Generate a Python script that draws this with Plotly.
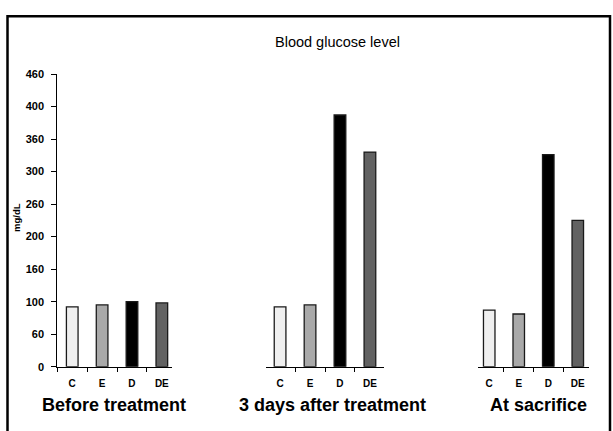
import plotly.graph_objects as go

W, H = 613, 431

categories = ["C", "E", "D", "DE"]
groups = ["Before treatment", "3 days after treatment", "At sacrifice"]
before = [92, 95, 100, 98]
after3 = [92, 95, 387, 330]
sacrifice = [87, 81, 326, 225]
series = [before, after3, sacrifice]

bar_colors = ["#efefef", "#a9a9a9", "#000000", "#626262"]

y_tickvals = [0, 50, 100, 150, 200, 250, 300, 350, 400, 450]
y_ticktext = ["0", "60", "100", "160", "200", "260", "300", "360", "400", "460"]

def px(x):
    return x / W

def py(y):
    return 1 - y / H

FONT = "Liberation Sans, Arial, sans-serif"

fig = go.Figure()

axis_names = ["x", "x2", "x3"]
for vals, ax in zip(series, axis_names):
    fig.add_trace(go.Bar(
        x=categories, y=vals, xaxis=ax, yaxis="y",
        marker=dict(color=bar_colors, line=dict(color="#1a1a1a", width=1.3)),
        width=0.39, showlegend=False, hoverinfo="x+y",
    ))

# panel domains (pixels) and ranges
domains = [(57.3, 171.7), (266.0, 384.0), (478.3, 589.3)]
ranges = [(-0.5, 3.33), (-0.47, 3.47), (-0.37, 3.39)]

common_x = dict(
    type="category", showline=True, linecolor="black", linewidth=1,
    ticks="outside", tickson="boundaries", ticklen=4, tickcolor="black",
    tickwidth=1, showgrid=False, zeroline=False, anchor="y",
    tickfont=dict(family=FONT, size=10, color="black", weight="bold"),
    ticklabelstandoff=7, fixedrange=True,
)

layout_axes = {}
for i, (d, r) in enumerate(zip(domains, ranges)):
    key = "xaxis" if i == 0 else f"xaxis{i+1}"
    layout_axes[key] = dict(common_x, domain=[px(d[0]), px(d[1])], range=list(r))

fig.update_layout(**layout_axes)

fig.update_layout(
    width=W, height=H,
    margin=dict(l=0, r=0, t=0, b=0),
    paper_bgcolor="white", plot_bgcolor="rgba(0,0,0,0)",
    yaxis=dict(
        domain=[py(371), py(70)], range=[0, 450], anchor="x",
        tickvals=y_tickvals, ticktext=y_ticktext,
        showline=True, linecolor="black", linewidth=1,
        ticks="outside", ticklen=5, tickcolor="black",
        showgrid=False, zeroline=False,
        tickfont=dict(family=FONT, size=11, color="black", weight="bold"),
        ticklabelstandoff=5, fixedrange=True,
    ),
    bargap=0.6,
)

annotations = [
    dict(text="Blood glucose level", x=px(337.5), y=py(37), xref="paper", yref="paper",
         showarrow=False, xanchor="center", yanchor="middle",
         font=dict(family=FONT, size=14.5, color="black")),
    dict(text="mg/dL", x=px(17), y=py(218), xref="paper", yref="paper",
         showarrow=False, textangle=-90, xanchor="center", yanchor="middle",
         font=dict(family=FONT, size=9.5, color="black", weight="bold")),
]
group_x = [114.2, 332.0, 538.0]
for g, gx in zip(groups, group_x):
    annotations.append(dict(
        text=g, x=px(gx), y=py(410.5), xref="paper", yref="paper",
        showarrow=False, xanchor="center", yanchor="middle",
        font=dict(family=FONT, size=18, color="black", weight="bold")))
fig.update_layout(annotations=annotations)

fig.add_shape(type="rect", xref="paper", yref="paper",
              x0=px(7.5), x1=px(610), y0=-0.1, y1=py(10.5),
              line=dict(color="black", width=2.5), fillcolor="rgba(0,0,0,0)")

fig.write_html(
    "out.html",
    config={"displayModeBar": False},
    post_script="document.body.style.margin='0';document.body.style.padding='0';"
                "document.documentElement.style.overflow='hidden';",
)
